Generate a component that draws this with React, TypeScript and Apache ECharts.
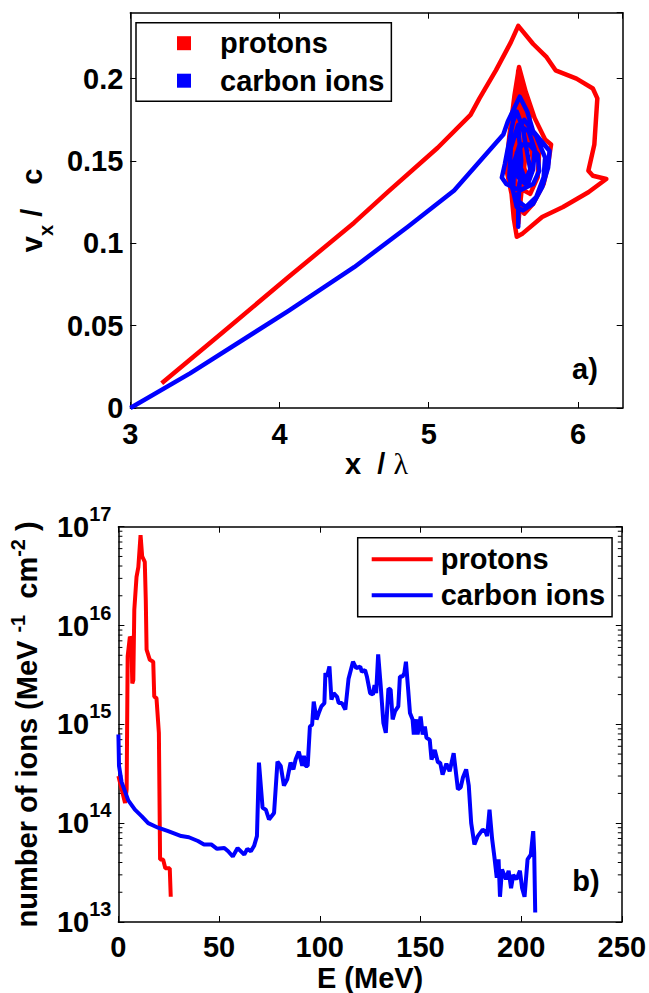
import React, { useEffect, useRef } from "react";
import * as echarts from "echarts";

const FONT = "'Liberation Sans', Arial, Helvetica, sans-serif";
const SERIF = "'Liberation Serif', 'Times New Roman', serif";

// ---------- panel a) phase space ----------
const protonPos = [3.21, 3.62, 4.06, 4.5, 4.73, 5.06, 5.28, 5.34, 5.45, 5.55, 5.6, 5.7, 5.79, 5.85, 5.99, 6.1, 6.13, 6.12, 6.11, 6.07, 6.1, 6.19, 6.07, 5.9, 5.76, 5.63, 5.59, 5.57, 5.555, 5.52, 5.54, 5.575, 5.605, 5.65, 5.71, 5.78, 5.82, 5.8, 5.77, 5.7, 5.64, 5.6, 5.57, 5.58, 5.6, 5.64, 5.69, 5.74, 5.73, 5.68, 5.62, 5.6, 5.61, 5.62, 5.66, 5.7, 5.66, 5.63, 5.64, 5.62, 5.6, 5.58, 5.56, 5.57, 5.6, 5.62, 5.65, 5.68, 5.63];
const protonVel = [0.015, 0.046, 0.0795, 0.1125, 0.1315, 0.158, 0.178, 0.188, 0.205, 0.222, 0.232, 0.221, 0.213, 0.205, 0.2, 0.194, 0.188, 0.174, 0.16, 0.144, 0.141, 0.139, 0.131, 0.122, 0.116, 0.106, 0.104, 0.115, 0.13, 0.145, 0.165, 0.19, 0.207, 0.192, 0.176, 0.163, 0.16, 0.148, 0.136, 0.124, 0.118, 0.125, 0.145, 0.17, 0.2, 0.183, 0.168, 0.155, 0.14, 0.13, 0.133, 0.15, 0.175, 0.195, 0.17, 0.15, 0.138, 0.15, 0.17, 0.19, 0.205, 0.185, 0.16, 0.13, 0.112, 0.13, 0.155, 0.18, 0.195];
const carbonPos = [3.0, 3.4, 4.06, 4.5, 4.86, 5.17, 5.5, 5.53, 5.61, 5.66, 5.7, 5.81, 5.8, 5.76, 5.7, 5.63, 5.59, 5.565, 5.575, 5.61, 5.675, 5.73, 5.74, 5.7, 5.61, 5.52, 5.49, 5.51, 5.565, 5.59, 5.63, 5.66, 5.68, 5.65, 5.62, 5.6, 5.6, 5.6, 5.62, 5.6, 5.58, 5.64, 5.72, 5.78, 5.77, 5.72, 5.65, 5.58, 5.54, 5.55, 5.6, 5.67, 5.71, 5.7, 5.66, 5.6, 5.59, 5.63];
const carbonVel = [0, 0.021, 0.059, 0.0855, 0.11, 0.132, 0.166, 0.174, 0.189, 0.18, 0.168, 0.156, 0.146, 0.134, 0.124, 0.12, 0.122, 0.132, 0.15, 0.16, 0.16, 0.154, 0.144, 0.136, 0.132, 0.136, 0.14, 0.148, 0.174, 0.18, 0.17, 0.155, 0.145, 0.138, 0.145, 0.13, 0.11, 0.125, 0.15, 0.17, 0.165, 0.175, 0.165, 0.152, 0.14, 0.128, 0.122, 0.127, 0.14, 0.158, 0.172, 0.168, 0.157, 0.145, 0.135, 0.14, 0.155, 0.16];

// ---------- panel b) energy spectra ----------
const protonE = [0, 3.3, 4.1, 4.6, 5.7, 6.4, 6.9, 7.4, 7.9, 9.0, 9.9, 11.0, 11.8, 13.1, 13.6, 14.0, 15.6, 17.3, 17.8, 18.9, 20.1, 20.7, 22.2, 23.3, 25.5, 26.0];
const protonN = [3.0e14, 1.6e14, 2.2e14, 4.9e15, 7.7e15, 7.2e15, 2.6e15, 2.8e15, 1.45e16, 3.1e16, 3.9e16, 8.2e16, 5.0e16, 4.4e16, 1.8e16, 5.7e15, 4.5e15, 4.3e15, 1.9e15, 1.85e15, 8.2e14, 4.3e13, 4.3e13, 3.5e13, 3.5e13, 1.8e13];
const carbonE = [0, 0.3, 1.6, 4.9, 8.2, 11.5, 14.8, 19.7, 24.7, 31.2, 35.0, 39.5, 42.5, 46.1, 49.0, 52.6, 54.5, 56.8, 59.2, 62.5, 64.0, 65.8, 67.4, 68.8, 69.8, 71.6, 73.2, 74.8, 77.3, 79.0, 80.6, 82.2, 83.9, 85.5, 86.9, 88.0, 89.6, 91.3, 92.1, 92.9, 94.0, 95.1, 96.2, 97.0, 98.4, 99.5, 100.8, 102.3, 102.8, 103.6, 104.8, 105.8, 106.9, 108.6, 109.4, 111.0, 112.7, 114.3, 116.5, 118.1, 120.1, 120.9, 122.5, 123.4, 125.0, 126.4, 127.2, 128.0, 129.0, 130.3, 131.6, 132.8, 134.1, 135.2, 136.2, 137.4, 139.0, 139.8, 141.1, 142.0, 142.8, 143.9, 144.8, 146.1, 146.7, 148.1, 148.6, 150.1, 151.1, 152.2, 153.0, 154.6, 155.5, 157.1, 158.7, 159.8, 161.0, 162.9, 164.5, 166.5, 168.6, 170.0, 171.1, 172.7, 174.0, 175.2, 176.8, 178.5, 180.9, 182.2, 183.1, 184.3, 185.6, 186.7, 187.9, 188.8, 189.5, 190.5, 192.5, 193.8, 195.0, 196.1, 197.7, 199.4, 200.5, 201.7, 203.2, 204.8, 206.0, 206.5, 207.0];
const carbonN = [7.9e14, 3.8e14, 2.6e14, 1.7e14, 1.37e14, 1.18e14, 1.0e14, 9.0e13, 8.3e13, 7.4e13, 7.2e13, 6.6e13, 6.1e13, 6.1e13, 5.5e13, 5.6e13, 5.2e13, 4.6e13, 5.6e13, 4.8e13, 5.5e13, 5.2e13, 5.9e13, 7.4e13, 4.1e14, 1.43e14, 1.37e14, 1.09e14, 1.27e14, 4.2e14, 3.8e14, 2.4e14, 2.8e14, 4.1e14, 3.5e14, 4.4e14, 5.3e14, 3.8e14, 4.8e14, 3.8e14, 3.8e14, 9.5e14, 9.9e14, 1.7e15, 1.12e15, 1.3e15, 1.52e15, 1.64e15, 3.3e15, 3.05e15, 3.85e15, 1.78e15, 2.07e15, 1.9e15, 1.64e15, 1.64e15, 1.41e15, 2.9e15, 4.3e15, 3.7e15, 3.85e15, 3.4e15, 3.55e15, 3.05e15, 2.07e15, 2.0e15, 2.5e15, 2.07e15, 5.1e15, 2.4e15, 1.03e15, 8.2e14, 2.3e15, 2.25e15, 1.12e15, 1.36e15, 1.52e15, 3.05e15, 3.05e15, 3.3e15, 4.3e15, 2.25e15, 1.3e15, 1.12e15, 7.9e14, 1.12e15, 7.9e14, 1.2e15, 7.9e14, 9.5e14, 7.3e14, 7.0e14, 4.4e14, 5.5e14, 4.1e14, 4.1e14, 3.1e14, 4.0e14, 3.35e14, 5.1e14, 2.2e14, 2.3e14, 2.9e14, 3.5e14, 2.4e14, 1.0e14, 6.1e13, 7.4e13, 8.6e13, 8.3e13, 7.4e13, 1.37e14, 6.9e13, 4.6e13, 2.8e13, 4.3e13, 1.8e13, 3.4e13, 2.7e13, 3.3e13, 2.2e13, 3.0e13, 2.7e13, 3.3e13, 2.2e13, 1.8e13, 4.3e13, 4.8e13, 8.3e13, 5.0e13, 1.25e13];

const seriesNames = ["protons", "carbon ions"];
const seriesColors = ["#ff0000", "#0000ff"];
const logMinorTicks = [
  2e13, 3e13, 4e13, 5e13, 6e13, 7e13, 8e13, 9e13,
  2e14, 3e14, 4e14, 5e14, 6e14, 7e14, 8e14, 9e14,
  2e15, 3e15, 4e15, 5e15, 6e15, 7e15, 8e15, 9e15,
  2e16, 3e16, 4e16, 5e16, 6e16, 7e16, 8e16, 9e16,
];

const pairs = (xs: number[], ys: number[]) => xs.map((x, i) => [x, ys[i]]);

const tickLabel = { fontFamily: FONT, fontWeight: "bold" as const, fontSize: 29, color: "#000" };
const axisLineStyle = { lineStyle: { color: "#000", width: 1.5 } };

export default function App() {
  const ref = useRef<HTMLDivElement>(null);
  useEffect(() => {
    if (!ref.current) return;
    const chart = echarts.init(ref.current, null, { renderer: "svg" });
    const plainAxis = (extra: any) => ({
      axisLine: { show: true, onZero: false, ...axisLineStyle },
      axisTick: { show: true, inside: true, length: 6, lineStyle: { color: "#000", width: 1 } },
      axisLabel: { show: false },
      splitLine: { show: false },
      ...extra,
    });
    const option: any = {
      animation: false,
      backgroundColor: "#fff",
      grid: [
        { left: 126, top: 12.7, width: 496.7, height: 395.3 },
        { left: 116.7, top: 526.7, width: 506.6, height: 396 },
      ],
      xAxis: [
        plainAxis({
          type: "value", gridIndex: 0, min: 3, max: 6.3, interval: 1, position: "bottom",
          axisLabel: { show: true, ...tickLabel, margin: 11, showMaxLabel: false },
          name: "{b|x  /} {l|λ}", nameLocation: "middle", nameGap: 33,
          nameTextStyle: {
            ...tickLabel,
            rich: {
              b: { fontFamily: FONT, fontWeight: "bold", fontSize: 29, color: "#000" },
              l: { fontFamily: SERIF, fontWeight: "normal", fontSize: 30, color: "#000" },
            },
          },
        }),
        plainAxis({ type: "value", gridIndex: 0, min: 3, max: 6.3, interval: 1, position: "top" }),
        plainAxis({
          type: "value", gridIndex: 1, min: 0, max: 250, interval: 50, position: "bottom",
          axisLabel: { show: true, ...tickLabel, margin: 10 },
          name: "E (MeV)", nameLocation: "middle", nameGap: 41,
          nameTextStyle: { ...tickLabel },
        }),
        plainAxis({ type: "value", gridIndex: 1, min: 0, max: 250, interval: 50, position: "top" }),
      ],
      yAxis: [
        plainAxis({
          type: "value", gridIndex: 0, min: 0, max: 0.24, interval: 0.05, position: "left",
          axisLabel: { show: true, ...tickLabel, margin: 7, showMaxLabel: false },
          name: "{b|v}{s|x}{b| /   c}", nameLocation: "middle", nameRotate: 90, nameGap: 78,
          nameTextStyle: {
            ...tickLabel,
            rich: {
              b: { fontFamily: FONT, fontWeight: "bold", fontSize: 29, lineHeight: 29, color: "#000" },
              s: { fontFamily: FONT, fontWeight: "bold", fontSize: 20, lineHeight: 20, padding: [28, 0, 0, 0], color: "#000" },
            },
          },
        }),
        plainAxis({ type: "value", gridIndex: 0, min: 0, max: 0.24, interval: 0.05, position: "right" }),
        plainAxis({
          type: "log", logBase: 10, gridIndex: 1, min: 1e13, max: 1e17, position: "left",
          axisLabel: {
            show: true, margin: 7,
            formatter: (v: number) => `{b|10}{s|${Math.round(Math.log10(v))}}`,
            rich: {
              b: { fontFamily: FONT, fontWeight: "bold", fontSize: 29, lineHeight: 29, color: "#000" },
              s: { fontFamily: FONT, fontWeight: "bold", fontSize: 20, lineHeight: 20, padding: [0, 0, 26, 0], color: "#000" },
            },
          },
          name: "{b|number of ions (MeV }{s|-1}{b|  cm}{s|-2}{b| )}", nameLocation: "middle", nameRotate: 90, nameGap: 66,
          nameTextStyle: {
            ...tickLabel,
            rich: {
              b: { fontFamily: FONT, fontWeight: "bold", fontSize: 29, lineHeight: 29, color: "#000" },
              s: { fontFamily: FONT, fontWeight: "bold", fontSize: 20, lineHeight: 20, padding: [0, 0, 18, 0], color: "#000" },
            },
          },
        }),
        plainAxis({ type: "log", logBase: 10, gridIndex: 1, min: 1e13, max: 1e17, position: "right" }),
      ],
      legend: [
        {
          left: 136, top: 22.7, orient: "vertical",
          data: seriesNames.map((n) => ({ name: n, icon: "rect" })),
          itemWidth: 14, itemHeight: 14, itemGap: 8.5,
          padding: [6, 7, 6, 41],
          borderColor: "#000", borderWidth: 1.5, backgroundColor: "#fff",
          selectedMode: false,
          textStyle: { ...tickLabel, padding: [0, 0, 0, 24] },
        },
        {
          left: 357.7, top: 537.7, orient: "vertical",
          data: seriesNames.map((n) => ({ name: n, icon: "rect" })),
          itemWidth: 61, itemHeight: 4, itemGap: 7,
          padding: [7, 7, 7, 14],
          borderColor: "#000", borderWidth: 1.5, backgroundColor: "#fff",
          selectedMode: false,
          textStyle: { ...tickLabel, padding: [0, 0, 0, 3] },
        },
      ],
      graphic: [
        { type: "text", x: 585, y: 369, style: { text: "a)", font: `bold 29px ${FONT}`, fill: "#000", align: "center", verticalAlign: "middle" } },
        { type: "text", x: 586, y: 880.5, style: { text: "b)", font: `bold 29px ${FONT}`, fill: "#000", align: "center", verticalAlign: "middle" } },
      ],
      series: [
        {
          name: seriesNames[0], type: "line", xAxisIndex: 0, yAxisIndex: 0,
          data: pairs(protonPos, protonVel), showSymbol: false, color: seriesColors[0],
          lineStyle: { width: 4.5, color: seriesColors[0], join: "round" },
        },
        {
          name: seriesNames[1], type: "line", xAxisIndex: 0, yAxisIndex: 0,
          data: pairs(carbonPos, carbonVel), showSymbol: false, color: seriesColors[1],
          lineStyle: { width: 4.5, color: seriesColors[1], join: "round" },
        },
        {
          name: seriesNames[0], type: "line", xAxisIndex: 2, yAxisIndex: 2,
          data: pairs(protonE, protonN), showSymbol: false, color: seriesColors[0],
          lineStyle: { width: 4, color: seriesColors[0] },
        },
        {
          name: seriesNames[1], type: "line", xAxisIndex: 2, yAxisIndex: 2,
          data: pairs(carbonE, carbonN), showSymbol: false, color: seriesColors[1],
          lineStyle: { width: 4, color: seriesColors[1] },
        },
        {
          type: "custom", xAxisIndex: 2, yAxisIndex: 2, silent: true, clip: false,
          data: logMinorTicks.map((v) => [0, v]),
          renderItem: (params: any, api: any) => {
            const y = api.coord([0, api.value(1)])[1];
            const cs = params.coordSys;
            return {
              type: "group",
              children: [
                { type: "line", shape: { x1: cs.x, y1: y, x2: cs.x + 4, y2: y }, style: { stroke: "#000", lineWidth: 1 } },
                { type: "line", shape: { x1: cs.x + cs.width - 4, y1: y, x2: cs.x + cs.width, y2: y }, style: { stroke: "#000", lineWidth: 1 } },
              ],
            };
          },
        },
      ],
    };
    chart.setOption(option);
    return () => chart.dispose();
  }, []);
  return <div ref={ref} style={{ position: "absolute", left: 0, top: 0, width: 649, height: 993 }} />;
}
